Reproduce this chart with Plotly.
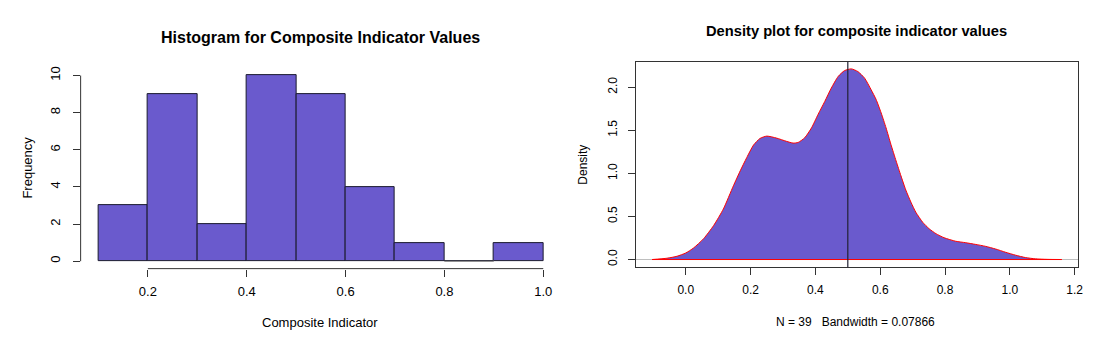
import plotly.graph_objects as go

# ---------------- data ----------------
bin_edges = [0.1, 0.2, 0.3, 0.4, 0.5, 0.6, 0.7, 0.8, 0.9, 1.0]
counts = [3, 9, 2, 10, 9, 4, 1, 0, 1]
hist_x_ticks = [0.2, 0.4, 0.6, 0.8, 1.0]
hist_y_ticks = [0, 2, 4, 6, 8, 10]

dens_x = [-0.104, -0.058, -0.027, 0.0, 0.024, 0.055, 0.086, 0.116, 0.147, 0.168,
          0.188, 0.209, 0.229, 0.250, 0.280, 0.311, 0.331, 0.347, 0.367, 0.388,
          0.408, 0.429, 0.449, 0.470, 0.490, 0.511, 0.531, 0.552, 0.572, 0.587,
          0.603, 0.618, 0.633, 0.649, 0.664, 0.679, 0.695, 0.710, 0.731, 0.751,
          0.772, 0.797, 0.833, 0.864, 0.895, 0.925, 0.956, 0.987, 1.018, 1.048,
          1.079, 1.115, 1.160]
dens_y = [0.0, 0.015, 0.038, 0.076, 0.134, 0.242, 0.395, 0.587, 0.856, 1.029,
          1.182, 1.328, 1.405, 1.432, 1.409, 1.371, 1.351, 1.359, 1.413, 1.528,
          1.682, 1.835, 1.989, 2.123, 2.192, 2.212, 2.181, 2.104, 1.970, 1.860,
          1.700, 1.528, 1.336, 1.144, 0.971, 0.806, 0.664, 0.548, 0.433, 0.357,
          0.300, 0.253, 0.212, 0.195, 0.175, 0.153, 0.122, 0.084, 0.050, 0.023,
          0.008, 0.002, 0.0]
dens_x_ticks = [0.0, 0.2, 0.4, 0.6, 0.8, 1.0, 1.2]
dens_y_ticks = [0.0, 0.5, 1.0, 1.5, 2.0]
mean_value = 0.5
n_obs = 39
bandwidth = 0.07866

# ---------------- style ----------------
W, H = 1109, 341
FILL = "#6A5ACD"
AX = "#333333"
EDGE = "#1a1a2e"
FONT = "Liberation Sans, Arial, sans-serif"
NBSP = "\u00a0"


def px_x(p):
    return p / W


def px_y(p):
    return 1 - p / H


centers = [(a + b) / 2 for a, b in zip(bin_edges[:-1], bin_edges[1:])]
widths = [b - a for a, b in zip(bin_edges[:-1], bin_edges[1:])]

fig = go.Figure()

fig.add_trace(go.Bar(
    x=centers, y=counts, width=widths,
    marker=dict(color=FILL, line=dict(color=EDGE, width=1)),
    xaxis="x", yaxis="y", showlegend=False, hoverinfo="x+y",
))

# empty bins are drawn by R as a flat outline at zero
for a, b, c in zip(bin_edges[:-1], bin_edges[1:], counts):
    if c == 0:
        fig.add_trace(go.Scatter(
            x=[a, b], y=[c, c], mode="lines",
            line=dict(color="#777777", width=1),
            xaxis="x", yaxis="y", showlegend=False, hoverinfo="skip",
        ))

fig.add_trace(go.Scatter(
    x=dens_x, y=dens_y, mode="lines", fill="tozeroy", fillcolor=FILL,
    line=dict(color="#FF0000", width=1, shape="spline", smoothing=0.6),
    xaxis="x2", yaxis="y2", showlegend=False,
))
fig.add_trace(go.Scatter(
    x=[dens_x[0], dens_x[-1]], y=[dens_y[0], dens_y[-1]], mode="lines",
    line=dict(color="#FF0000", width=1),
    xaxis="x2", yaxis="y2", showlegend=False, hoverinfo="skip",
))

tickfont_l = dict(family=FONT, size=13, color="black")
tickfont_r = dict(family=FONT, size=12, color="black")

fig.update_layout(
    width=W, height=H,
    margin=dict(l=0, r=0, t=0, b=0),
    paper_bgcolor="white", plot_bgcolor="white",
    font=dict(family=FONT, color="black"),
    bargap=0,
    xaxis=dict(
        domain=[px_x(81), px_x(563.6)], range=[0.064, 1.036],
        tickvals=hist_x_ticks, ticktext=[f"{v:.1f}" for v in hist_x_ticks],
        ticks="outside", ticklen=7, tickcolor=AX, tickwidth=1,
        showline=False, showgrid=False, zeroline=False,
        tickfont=tickfont_l, ticklabelstandoff=4, anchor="y",
    ),
    yaxis=dict(
        domain=[px_y(268.2), px_y(66.5)], range=[-0.4, 10.4],
        tickvals=hist_y_ticks, ticktext=[str(v) for v in hist_y_ticks],
        ticks="outside", ticklen=7, tickcolor=AX, tickwidth=1, tickangle=-90,
        showline=False, showgrid=False, zeroline=False,
        tickfont=tickfont_l, ticklabelstandoff=7, anchor="x",
    ),
    xaxis2=dict(
        domain=[px_x(638.6), px_x(1083)], range=[-0.1545, 1.2107],
        tickvals=dens_x_ticks, ticktext=[f"{v:.1f}" for v in dens_x_ticks],
        ticks="outside", ticklen=7, tickcolor=AX, tickwidth=1,
        showline=True, linecolor=AX, linewidth=1, mirror=True,
        showgrid=False, zeroline=False,
        tickfont=tickfont_r, ticklabelstandoff=4, anchor="y2",
    ),
    yaxis2=dict(
        domain=[px_y(266.7), px_y(60)], range=[-0.0883, 2.296],
        tickvals=dens_y_ticks, ticktext=[f"{v:.1f}" for v in dens_y_ticks],
        ticks="outside", ticklen=7, tickcolor=AX, tickwidth=1, tickangle=-90,
        showline=True, linecolor=AX, linewidth=1, mirror=True,
        showgrid=False, zeroline=True, zerolinecolor="#BEBEBE", zerolinewidth=1,
        tickfont=tickfont_r, ticklabelstandoff=6, anchor="x2",
    ),
    shapes=[
        # R-style partial axis lines for the histogram
        dict(type="line", xref="x", yref="y domain",
             x0=hist_x_ticks[0], x1=hist_x_ticks[-1], y0=0, y1=0,
             line=dict(color=AX, width=1)),
        dict(type="line", xref="x domain", yref="y",
             x0=0, x1=0, y0=hist_y_ticks[0], y1=hist_y_ticks[-1],
             line=dict(color=AX, width=1)),
        # mean line
        dict(type="line", xref="x2", yref="y2 domain",
             x0=mean_value, x1=mean_value, y0=0, y1=1,
             line=dict(color="#222233", width=1.2), layer="above"),
    ],
    annotations=[
        dict(text="<b>Histogram for Composite Indicator Values</b>",
             xref="paper", yref="paper", x=px_x(321.5), y=px_y(35.7),
             xanchor="center", yanchor="middle", showarrow=False,
             font=dict(family=FONT, size=16, color="black")),
        dict(text="<b>Density plot for composite indicator values</b>",
             xref="paper", yref="paper", x=px_x(860), y=px_y(29),
             xanchor="center", yanchor="middle", showarrow=False,
             font=dict(family=FONT, size=14.7, color="black")),
        dict(text="Composite Indicator",
             xref="paper", yref="paper", x=px_x(321.5), y=px_y(322),
             xanchor="center", yanchor="middle", showarrow=False,
             font=dict(family=FONT, size=13, color="black")),
        dict(text=f"N = {n_obs}{NBSP}{NBSP} Bandwidth = {bandwidth}",
             xref="paper", yref="paper", x=px_x(859), y=px_y(322),
             xanchor="center", yanchor="middle", showarrow=False,
             font=dict(family=FONT, size=12, color="black")),
        dict(text="Frequency", textangle=-90,
             xref="paper", yref="paper", x=px_x(26.7), y=px_y(167),
             xanchor="center", yanchor="middle", showarrow=False,
             font=dict(family=FONT, size=13, color="black")),
        dict(text="Density", textangle=-90,
             xref="paper", yref="paper", x=px_x(586), y=px_y(163.3),
             xanchor="center", yanchor="middle", showarrow=False,
             font=dict(family=FONT, size=12, color="black")),
    ],
)

fig.write_html(
    "out.html",
    config={"displayModeBar": False},
    post_script="document.body.style.margin='0';document.body.style.padding='0';"
                "document.documentElement.style.overflow='hidden';",
)
